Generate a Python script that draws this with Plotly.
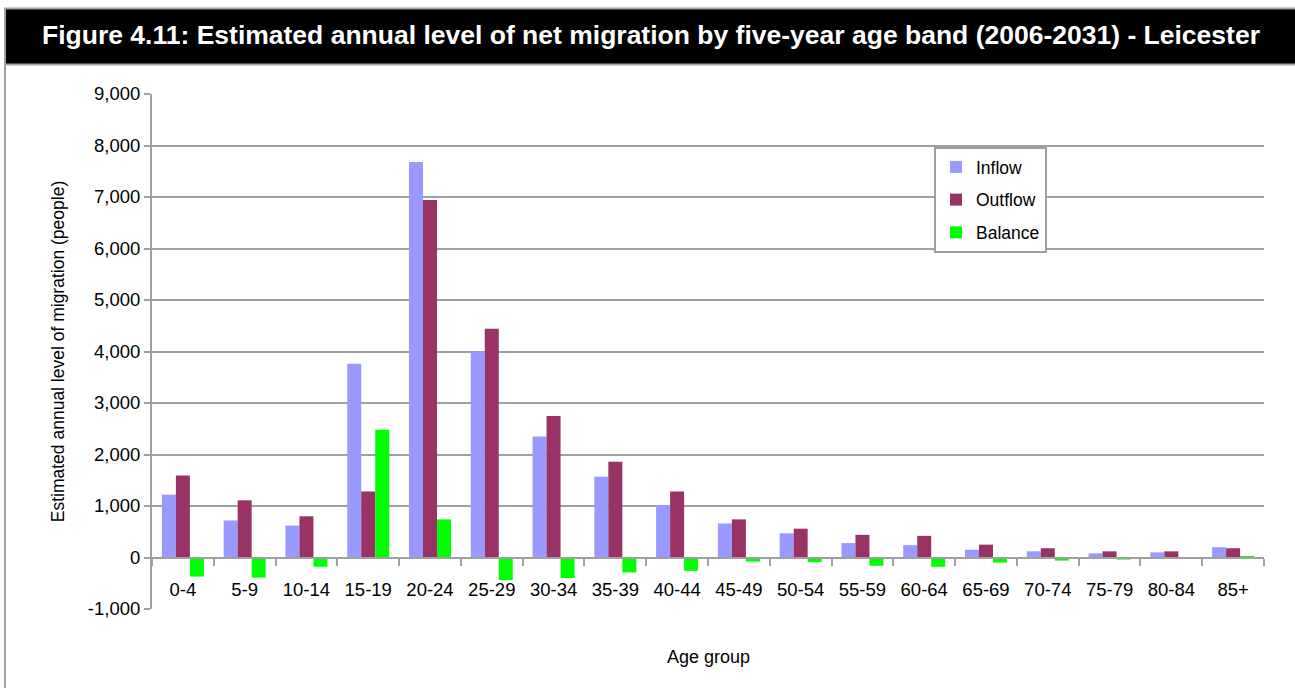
import plotly.graph_objects as go

# Five-year age bands
age_groups = ["0-4", "5-9", "10-14", "15-19", "20-24", "25-29", "30-34", "35-39", "40-44",
              "45-49", "50-54", "55-59", "60-64", "65-69", "70-74", "75-79", "80-84", "85+"]

# Estimated annual migration (people)
inflow = [1220, 720, 620, 3760, 7680, 4000, 2350, 1570, 1020, 660, 470, 280, 240, 150, 120, 80, 100, 200]
outflow = [1590, 1110, 800, 1280, 6940, 4440, 2750, 1860, 1280, 740, 560, 440, 420, 250, 180, 120, 120, 180]
balance = [-370, -390, -180, 2480, 740, -440, -400, -290, -260, -80, -90, -160, -180, -100, -60, -40, -20, 10]

y_ticks = list(range(-1000, 9001, 1000))
y_tick_text = [f"{v:,}" for v in y_ticks]

W, H = 1295, 688
ML, MR, MT, MB = 152, 31, 94, 79
PW, PH = W - ML - MR, H - MT - MB

FONT = "Arial, Liberation Sans, sans-serif"
GRID = "#a0a0a0"


def px_x(p):
    return (p - ML) / PW


def px_y(p):
    return (H - MB - p) / PH


fig = go.Figure()
series = [("Inflow", inflow, "#9999ff"),
          ("Outflow", outflow, "#993366"),
          ("Balance", balance, "#00ff00")]
for name, vals, col in series:
    fig.add_trace(go.Bar(x=age_groups, y=vals, name=name, marker_color=col,
                         marker_line_width=0, legendgroup=name))

y_lo, y_hi = y_ticks[0], y_ticks[-1]
zero_frac = (0 - y_lo) / (y_hi - y_lo)

fig.update_layout(
    width=W, height=H,
    margin=dict(l=ML, r=MR, t=MT, b=MB),
    paper_bgcolor="white", plot_bgcolor="white",
    barmode="group", bargap=0.32, bargroupgap=0,
    font=dict(family=FONT, size=18.5, color="black"),
    showlegend=True,
    legend=dict(x=px_x(934), y=px_y(147), xanchor="left", yanchor="top",
                bgcolor="white", bordercolor=GRID, borderwidth=2,
                font=dict(size=17.5), tracegroupgap=7, itemclick=False,
                itemwidth=30),
    xaxis=dict(type="category", anchor="free", position=zero_frac,
               showline=True, linecolor=GRID, linewidth=2,
               ticks="outside", tickson="boundaries", ticklen=7, tickwidth=2,
               tickcolor=GRID, showgrid=False, ticklabelstandoff=15,
               tickfont=dict(size=18.5)),
    yaxis=dict(range=[y_lo, y_hi], tickvals=y_ticks, ticktext=y_tick_text,
               showgrid=True, gridcolor=GRID, gridwidth=2, zeroline=False,
               showline=True, linecolor=GRID, linewidth=2,
               ticks="outside", ticklen=6, tickwidth=2, tickcolor=GRID,
               tickfont=dict(size=18.5),
               title=dict(text="Estimated annual level of migration (people)",
                          font=dict(size=17.5), standoff=19)),
)

# Header band and frame
fig.add_shape(type="rect", xref="paper", yref="paper",
              x0=px_x(6), x1=px_x(W + 5), y0=px_y(64), y1=px_y(9),
              fillcolor="black", line_width=0, layer="above")
for y in (8.5, 64.5):
    fig.add_shape(type="line", xref="paper", yref="paper",
                  x0=px_x(4), x1=px_x(W + 5), y0=px_y(y), y1=px_y(y),
                  line=dict(color=GRID, width=2))
fig.add_shape(type="line", xref="paper", yref="paper",
              x0=px_x(5), x1=px_x(5), y0=px_y(8), y1=px_y(H + 5),
              line=dict(color=GRID, width=2))

fig.add_annotation(
    text="Figure 4.11: Estimated annual level of net migration by five-year age band (2006-2031) - Leicester",
    xref="paper", yref="paper", x=px_x(651), y=px_y(35),
    xanchor="center", yanchor="middle", showarrow=False,
    font=dict(family=FONT, size=26.5, color="white", weight="bold"))

fig.add_annotation(text="Age group", xref="paper", yref="paper",
                   x=0.5, y=px_y(657), xanchor="center", yanchor="middle",
                   showarrow=False, font=dict(size=18))

fig.write_html("out.html")
